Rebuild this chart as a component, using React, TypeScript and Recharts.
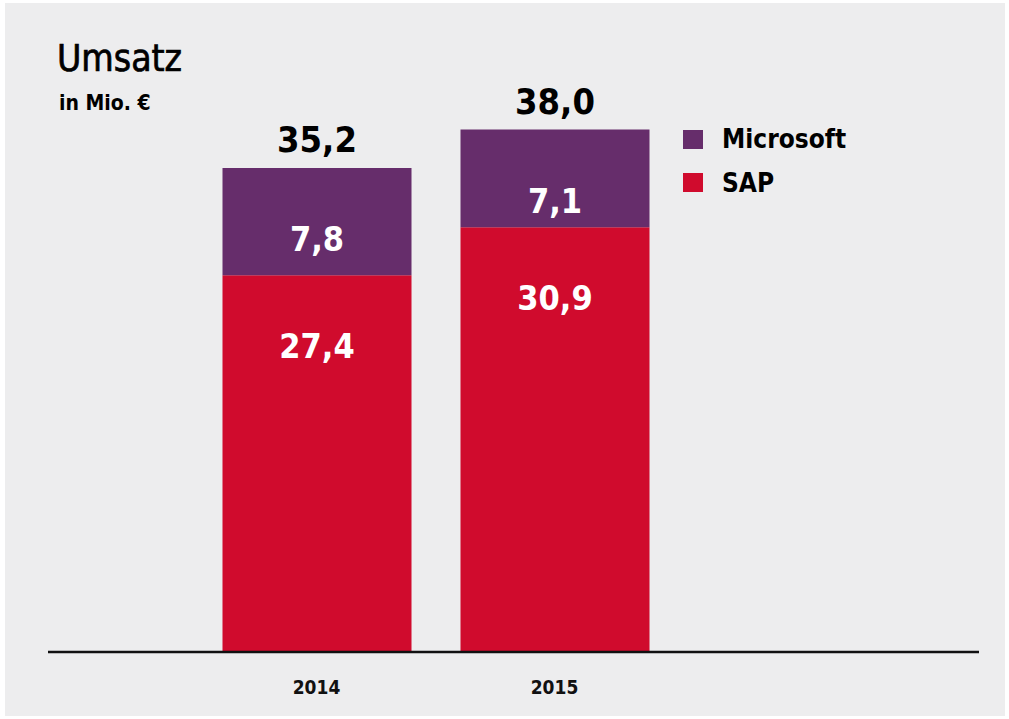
import { BarChart, Bar, XAxis, YAxis, LabelList } from "recharts";

// Umsatz in Mio. € je Jahr
const years = ["2014", "2015"];
const sap = [27.4, 30.9];
const microsoft = [7.8, 7.1];
const totals = [35.2, 38.0];

const seriesNames = ["Microsoft", "SAP"];

const COLOR_MS = "#662d6b";
const COLOR_SAP = "#d00b2d";
const FONT = "'DejaVu Sans Condensed', 'DejaVu Sans', sans-serif";

const data = years.map((y, i) => ({
  year: y,
  sap: sap[i],
  microsoft: microsoft[i],
  total: totals[i],
}));

const fmt = (v: number) => v.toFixed(1).replace(".", ",");

// Wert im Segment, etwas unterhalb der Oberkante
const InnerLabel = (props: any) => {
  const { x, y, width, value } = props;
  return (
    <text
      x={x + width / 2}
      y={y + 83}
      textAnchor="middle"
      fill="#ffffff"
      fontFamily={FONT}
      fontWeight="bold"
      fontSize={34}
    >
      {fmt(Number(value))}
    </text>
  );
};

const TotalLabel = (props: any) => {
  const { x, y, width, value } = props;
  return (
    <text
      x={x + width / 2}
      y={y - 16}
      textAnchor="middle"
      fill="#000000"
      fontFamily={FONT}
      fontWeight="bold"
      fontSize={36}
    >
      {fmt(Number(value))}
    </text>
  );
};

const YearTick = (props: any) => {
  const { x, payload } = props;
  return (
    <text
      x={x}
      y={694}
      textAnchor="middle"
      fill="#111111"
      fontFamily={FONT}
      fontWeight="bold"
      fontSize={19}
    >
      {payload.value}
    </text>
  );
};

export default function App() {
  return (
    <div style={{ position: "absolute", left: 0, top: 0, width: 1009, height: 719, background: "#ffffff" }}>
      <div style={{ position: "absolute", left: 5, top: 3, width: 1000, height: 713, background: "#ededee" }} />
      <div style={{ position: "absolute", left: 0, top: 0 }}>
        <BarChart
          width={1009}
          height={719}
          data={data}
          margin={{ top: 102, right: 30, bottom: 17, left: 48 }}
        >
          <XAxis
            dataKey="year"
            height={50}
            padding={{ left: 149.5, right: 305.5 }}
            axisLine={{ stroke: "#111111", strokeWidth: 2.5 }}
            tickLine={false}
            tick={<YearTick />}
            interval={0}
          />
          <YAxis hide domain={[0, 40]} />
          <Bar dataKey="sap" stackId="a" fill={COLOR_SAP} barSize={189} isAnimationActive={false} name="SAP">
            <LabelList dataKey="sap" content={<InnerLabel />} />
          </Bar>
          <Bar
            dataKey="microsoft"
            stackId="a"
            fill={COLOR_MS}
            barSize={189}
            isAnimationActive={false}
            name="Microsoft"
          >
            <LabelList dataKey="microsoft" content={<InnerLabel />} />
            <LabelList dataKey="total" content={<TotalLabel />} />
          </Bar>
        </BarChart>
      </div>
      <svg style={{ position: "absolute", left: 0, top: 0, pointerEvents: "none" }} width={1009} height={220}>
        <text x={57} y={71} fontFamily={FONT} fontSize={37} fill="#000000" stroke="#000000" strokeWidth={0.7}>
          Umsatz
        </text>
        <text x={59} y={110} fontFamily={FONT} fontWeight="bold" fontSize={21} fill="#000000">
          in Mio. €
        </text>
        {seriesNames.map((name, i) => (
          <g key={name}>
            <rect x={683} y={130 + i * 43} width={20} height={19} fill={i === 0 ? COLOR_MS : COLOR_SAP} />
            <text
              x={722}
              y={148 + i * 44}
              fill="#000000"
              fontFamily={FONT}
              fontWeight="bold"
              fontSize={26}
            >
              {name}
            </text>
          </g>
        ))}
      </svg>
    </div>
  );
}
